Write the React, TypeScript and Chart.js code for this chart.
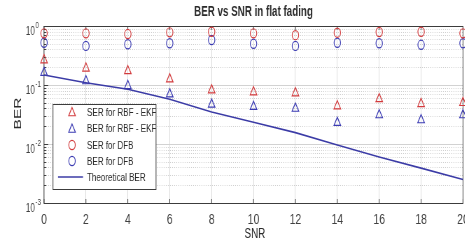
import React, { useEffect, useRef } from 'react';
import { Chart, registerables } from 'chart.js';

Chart.register(...registerables);

// ---- data ----
const SNR = [0, 2, 4, 6, 8, 10, 12, 14, 16, 18, 20];
const SER_RBF_EKF = [0.265, 0.192, 0.173, 0.126, 0.082, 0.076, 0.073, 0.044, 0.058, 0.048, 0.05];
const BER_RBF_EKF = [0.162, 0.117, 0.097, 0.07, 0.047, 0.043, 0.04, 0.023, 0.031, 0.0255, 0.031];
const SER_DFB = [0.75, 0.75, 0.73, 0.78, 0.8, 0.75, 0.7, 0.77, 0.79, 0.8, 0.75];
const BER_DFB = [0.52, 0.46, 0.49, 0.51, 0.58, 0.5, 0.46, 0.52, 0.51, 0.48, 0.51];
const THEORETICAL_BER = [0.148, 0.109, 0.0845, 0.0575, 0.0348, 0.0233, 0.0156, 0.0096, 0.006, 0.0039, 0.0025];

const X_TICKS = [0, 2, 4, 6, 8, 10, 12, 14, 16, 18, 20];
const Y_DECADES = [-3, -2, -1, 0];
const TITLE = 'BER vs SNR in flat fading';
const X_LABEL = 'SNR';
const Y_LABEL = 'BER';
const LEGEND_LABELS = ['SER for RBF - EKF', 'BER for RBF - EKF', 'SER for DFB', 'BER for DFB', 'Theoretical BER'];

// ---- styling ----
const SQUEEZE = 0.7;
const W = 700;
const H = 245;
const RED = '#d23a3c';
const BLUE = '#3a3ab2';
const LINE_BLUE = '#3b3ba6';
const TEXT = '#2a2a2a';
const FONT = '"Liberation Sans", Arial, Helvetica, sans-serif';
const f = (size: number, bold = false) => `${bold ? 'bold ' : ''}${size}px ${FONT}`;

function drawTriangle(ctx: CanvasRenderingContext2D, x: number, y: number, r: number) {
  let rad = 0;
  ctx.beginPath();
  ctx.moveTo(x + Math.sin(rad) * r, y - Math.cos(rad) * r);
  rad += (2 * Math.PI) / 3;
  ctx.lineTo(x + Math.sin(rad) * r, y - Math.cos(rad) * r);
  rad += (2 * Math.PI) / 3;
  ctx.lineTo(x + Math.sin(rad) * r, y - Math.cos(rad) * r);
  ctx.closePath();
  ctx.stroke();
}

function drawCircle(ctx: CanvasRenderingContext2D, x: number, y: number, r: number) {
  ctx.beginPath();
  ctx.arc(x, y, r, 0, Math.PI * 2);
  ctx.stroke();
}

const decorPlugin = {
  id: 'decor',
  beforeDatasetsDraw(chart: any) {
    const { ctx, chartArea: a, scales } = chart;
    const x = scales.x;
    const y = scales.y;
    ctx.save();
    // minor dotted log grid
    ctx.strokeStyle = '#c6c6c6';
    ctx.lineWidth = 1;
    ctx.setLineDash([1, 2]);
    for (let e = -3; e < 0; e++) {
      for (let m = 2; m <= 9; m++) {
        const py = Math.round(y.getPixelForValue(m * Math.pow(10, e))) + 0.5;
        ctx.beginPath();
        ctx.moveTo(a.left, py);
        ctx.lineTo(a.right, py);
        ctx.stroke();
      }
    }
    ctx.setLineDash([]);
    // axes box
    ctx.strokeStyle = '#3c3c3c';
    ctx.lineWidth = 1;
    ctx.strokeRect(a.left, Math.round(a.top) + 0.5, a.right - a.left, Math.round(a.bottom) - Math.round(a.top));
    // tick marks
    ctx.beginPath();
    for (const t of X_TICKS) {
      const px = x.getPixelForValue(t);
      ctx.moveTo(px, a.bottom);
      ctx.lineTo(px, a.bottom - 4);
      ctx.moveTo(px, a.top);
      ctx.lineTo(px, a.top + 4);
    }
    for (const e of Y_DECADES) {
      const py = Math.round(y.getPixelForValue(Math.pow(10, e))) + 0.5;
      ctx.moveTo(a.left, py);
      ctx.lineTo(a.left + 6, py);
      if (e < 0) {
        for (let m = 2; m <= 9; m++) {
          const pm = Math.round(y.getPixelForValue(m * Math.pow(10, e))) + 0.5;
          ctx.moveTo(a.left, pm);
          ctx.lineTo(a.left + 3, pm);
        }
      }
    }
    ctx.stroke();
    ctx.restore();
  },
  afterDraw(chart: any) {
    const { ctx, chartArea: a, scales } = chart;
    const x = scales.x;
    const y = scales.y;
    ctx.save();
    // title
    ctx.fillStyle = TEXT;
    ctx.font = f(14, true);
    ctx.textAlign = 'center';
    ctx.textBaseline = 'alphabetic';
    ctx.fillText(TITLE, (a.left + a.right) / 2, 15.5);
    // x tick labels
    ctx.fillStyle = '#404040';
    ctx.font = f(15);
    for (const t of X_TICKS) {
      ctx.fillText(String(t), x.getPixelForValue(t), 224);
    }
    // y tick labels with superscript
    for (const e of Y_DECADES) {
      const py = y.getPixelForValue(Math.pow(10, e));
      ctx.font = f(12);
      ctx.textAlign = 'right';
      ctx.fillText('10', 50, py + 8.5);
      ctx.font = f(9);
      ctx.textAlign = 'left';
      ctx.fillText(String(e), 50.5, py + 1.5);
    }
    // x label
    ctx.fillStyle = TEXT;
    ctx.font = f(14);
    ctx.textAlign = 'center';
    ctx.fillText(X_LABEL, (a.left + a.right) / 2 + 2, 238);
    // y label
    ctx.save();
    ctx.translate(30, 113.5);
    ctx.rotate(-Math.PI / 2);
    ctx.font = f(15.5);
    ctx.fillText(Y_LABEL, 0, 0);
    ctx.restore();
    // legend
    const lx = 75.7, ly = 104, lw = 147.2, lh = 85;
    ctx.fillStyle = '#ffffff';
    ctx.fillRect(lx, ly, lw, lh);
    ctx.strokeStyle = '#3c3c3c';
    ctx.lineWidth = 1;
    ctx.strokeRect(lx, ly + 0.5, lw, lh);
    const rows = [112, 128.5, 145, 161, 177];
    const mx = 102.9;
    ctx.lineWidth = 1.2;
    ctx.strokeStyle = RED;
    drawTriangle(ctx, mx, rows[0] + 1, 5.5);
    ctx.strokeStyle = BLUE;
    drawTriangle(ctx, mx, rows[1] + 1, 5.5);
    ctx.strokeStyle = RED;
    drawCircle(ctx, mx, rows[2], 4.6);
    ctx.strokeStyle = BLUE;
    drawCircle(ctx, mx, rows[3], 4.6);
    ctx.strokeStyle = LINE_BLUE;
    ctx.lineWidth = 1.6;
    ctx.beginPath();
    ctx.moveTo(82.9, rows[4]);
    ctx.lineTo(118.6, rows[4]);
    ctx.stroke();
    ctx.fillStyle = TEXT;
    ctx.font = f(11.5);
    ctx.textAlign = 'left';
    ctx.textBaseline = 'middle';
    LEGEND_LABELS.forEach((lab, i) => ctx.fillText(lab, 124.3, rows[i] + 0.5));
    ctx.restore();
  },
};

export default function App() {
  const ref = useRef<HTMLCanvasElement | null>(null);
  useEffect(() => {
    if (!ref.current) return;
    const pts = (arr: number[]) => SNR.map((s, i) => ({ x: s, y: arr[i] }));
    const markerDs = (label: string, arr: number[], color: string, style: string, r: number) => ({
      label,
      data: pts(arr),
      pointStyle: style,
      pointRadius: r,
      pointBorderWidth: 1.2,
      pointBorderColor: color,
      pointBackgroundColor: 'rgba(0,0,0,0)',
      borderColor: color,
      backgroundColor: 'rgba(0,0,0,0)',
      showLine: false,
      clip: false,
    });
    const chart = new Chart(ref.current, {
      type: 'scatter',
      data: {
        datasets: [
          {
            label: LEGEND_LABELS[4],
            data: pts(THEORETICAL_BER),
            showLine: true,
            borderColor: LINE_BLUE,
            borderWidth: 1.6,
            pointRadius: 0,
            tension: 0,
          } as any,
          markerDs(LEGEND_LABELS[0], SER_RBF_EKF, RED, 'triangle', 5.5),
          markerDs(LEGEND_LABELS[1], BER_RBF_EKF, BLUE, 'triangle', 5.5),
          markerDs(LEGEND_LABELS[2], SER_DFB, RED, 'circle', 4.6),
          markerDs(LEGEND_LABELS[3], BER_DFB, BLUE, 'circle', 4.6),
        ],
      },
      options: {
        animation: false,
        responsive: false,
        devicePixelRatio: 1,
        events: [],
        layout: { padding: { top: 26, left: 0, right: W - 661.4, bottom: 0 } },
        plugins: { legend: { display: false }, title: { display: false }, tooltip: { enabled: false } },
        scales: {
          x: {
            type: 'linear',
            min: 0,
            max: 20,
            ticks: { display: false, stepSize: 2 },
            grid: { color: '#dcdcdc', drawTicks: false },
            border: { display: false },
            afterFit: (s: any) => {
              s.height = 42;
            },
          },
          y: {
            type: 'logarithmic',
            min: 0.001,
            max: 1,
            afterBuildTicks: (s: any) => {
              s.ticks = Y_DECADES.map((e) => ({ value: Math.pow(10, e) }));
            },
            ticks: { display: false },
            grid: { color: '#d2d2d2', drawTicks: false },
            border: { display: false },
            afterFit: (s: any) => {
              s.width = 62.9;
            },
          },
        },
      } as any,
      plugins: [decorPlugin],
    });
    return () => chart.destroy();
  }, []);

  return (
    <div style={{ position: 'fixed', left: 0, top: 0, width: 465, height: H, overflow: 'hidden', background: '#fff' }}>
      <div style={{ width: W, height: H, transform: `scaleX(${SQUEEZE})`, transformOrigin: '0 0' }}>
        <canvas ref={ref} width={W} height={H} style={{ width: W, height: H, display: 'block' }} />
      </div>
    </div>
  );
}
